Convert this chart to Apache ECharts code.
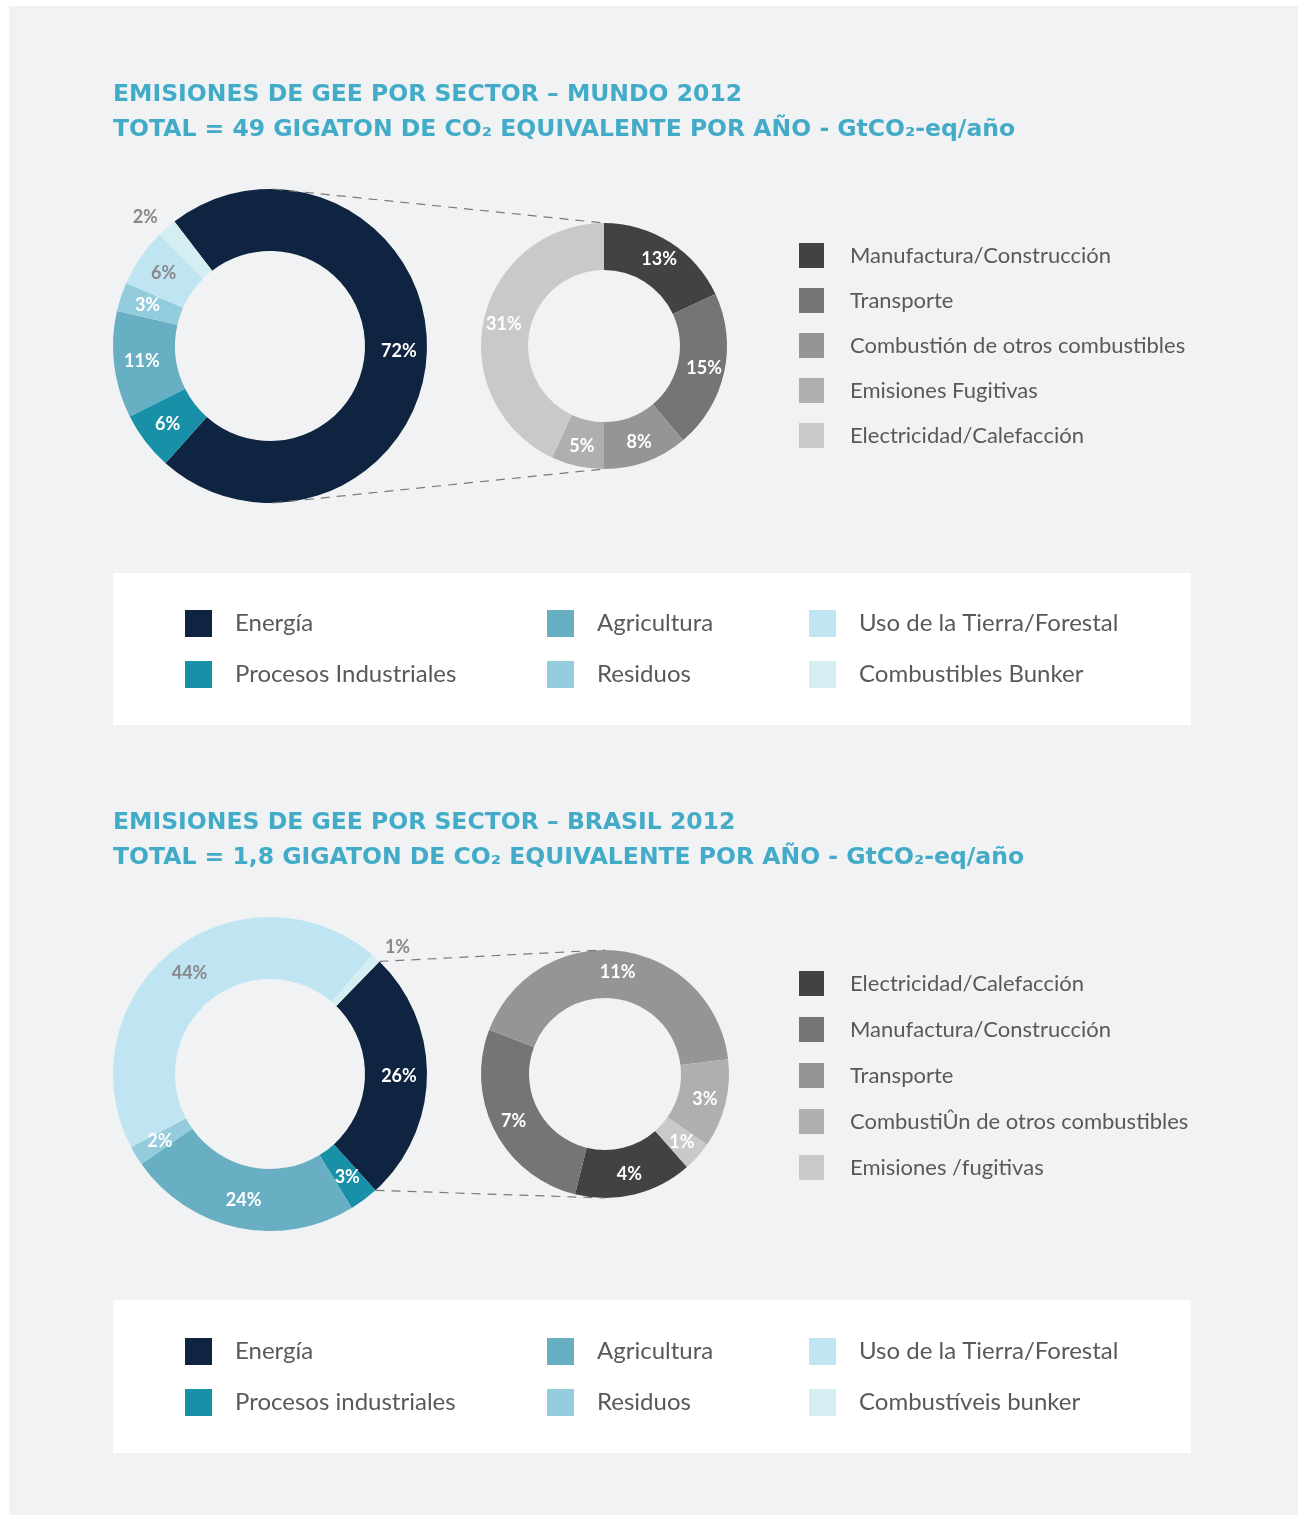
<!DOCTYPE html>
<html>
<head>
<meta charset="utf-8">
<script src="https://cdn.jsdelivr.net/npm/echarts@6/dist/echarts.min.js"></script>
<style>
html,body{margin:0;padding:0;background:#fff;}
#chart{width:1298px;height:1515px;}
</style>
</head>
<body>
<div id="chart"></div>
<script>
// ---- DATA ----
const worldSectors = ['Energía', 'Procesos Industriales', 'Agricultura', 'Residuos', 'Uso de la Tierra/Forestal', 'Combustibles Bunker'];
const worldValues = [72, 6, 11, 3, 6, 2];
const worldEnergySub = ['Manufactura/Construcción', 'Transporte', 'Combustión de otros combustibles', 'Emisiones Fugitivas', 'Electricidad/Calefacción'];
const worldEnergyValues = [13, 15, 8, 5, 31];

const brazilSectors = ['Energía', 'Procesos industriales', 'Agricultura', 'Residuos', 'Uso de la Tierra/Forestal', 'Combustíveis bunker'];
const brazilValues = [26, 3, 24, 2, 44, 1];
const brazilEnergySub = ['Electricidad/Calefacción', 'Manufactura/Construcción', 'Transporte', 'CombustiÛn de otros combustibles', 'Emisiones /fugitivas'];
const brazilEnergyValues = [4, 7, 11, 3, 1];

const worldTitle1 = 'EMISIONES DE GEE POR SECTOR – MUNDO 2012';
const worldTitle2 = 'TOTAL = 49 GIGATON DE CO₂ EQUIVALENTE POR AÑO - GtCO₂-eq/año';
const brazilTitle1 = 'EMISIONES DE GEE POR SECTOR – BRASIL 2012';
const brazilTitle2 = 'TOTAL = 1,8 GIGATON DE CO₂ EQUIVALENTE POR AÑO - GtCO₂-eq/año';

// ---- STYLE / LAYOUT ----
const sectorColors = ['#0f2440', '#1890a8', '#68afc4', '#93ccdc', '#bfe5f2', '#d5eef2'];
const worldSubColors = ['#414244', '#747577', '#949597', '#aeafb1', '#c8c9cb'];
const brazilSubColors = ['#414244', '#747577', '#949597', '#aeafb1', '#c8c9cb'];
const titleColor = '#42abc8';
const textColor = '#58595b';
const grayLabel = '#87888a';
const bgPanel = '#f1f2f4';

const W = { big: { c: [270, 346], r: [95, 157], start: 127.5 }, small: { c: [604, 346], r: [76, 123], start: 90 } };
const B = { big: { c: [270, 1074], r: [95, 157], start: 45.8 }, small: { c: [605, 1074], r: [76, 124], start: -48.6 } };

function bigData(names, values) {
  return names.map((n, i) => {
    const d = { name: n, value: values[i], itemStyle: { color: sectorColors[i] } };
    if (i === 4) d.label = { color: grayLabel };
    if (i === 5) {
      d.label = { position: 'outside', color: grayLabel,
        formatter: p => '{o|' + p.value + '%}',
        rich: { o: { color: grayLabel, fontFamily: 'Lato', fontWeight: 'bold', fontSize: 18, padding: [0, 0, 12, 0] } } };
      d.labelLine = { show: false, length: 6, length2: 0 };
    }
    return d;
  });
}
function smallData(names, values, colors) {
  return names.map((n, i) => ({ name: n, value: values[i], itemStyle: { color: colors[i] } }));
}
function pie(geo, data) {
  return {
    type: 'pie', center: geo.c, radius: geo.r, startAngle: geo.start, clockwise: true,
    avoidLabelOverlap: false, silent: true, animation: false,
    label: { show: true, position: 'inside', formatter: p => p.value + '%', color: '#fff',
             fontFamily: 'Lato', fontWeight: 'bold', fontSize: 18 },
    labelLine: { show: false },
    emphasis: { disabled: true },
    data
  };
}
function legend(names, colors, idx, left, top, size, gap, fs, pad) {
  return {
    orient: 'vertical', left, top, padding: 0, itemWidth: size, itemHeight: size, itemGap: gap,
    icon: 'rect', selectedMode: false,
    data: idx.map(i => ({ name: names[i], itemStyle: { color: colors[i] } })),
    textStyle: { color: textColor, fontFamily: 'Lato', fontSize: fs, padding: [0, 0, 0, pad] }
  };
}
function title(text, top) {
  return { text, left: 113, top, padding: 0,
    textStyle: { color: titleColor, fontFamily: 'DejaVu Sans', fontWeight: 'bold', fontSize: 23.5 } };
}
function pt(geo, ang) {
  const a = ang * Math.PI / 180;
  return [geo.c[0] + geo.r[1] * Math.cos(a), geo.c[1] - geo.r[1] * Math.sin(a)];
}
const dash = { stroke: '#7a7a7a', lineWidth: 1.2, lineDash: [9, 7] };
function connector(p1, p2) { return { type: 'line', z: 5, shape: { x1: p1[0], y1: p1[1], x2: p2[0], y2: p2[1] }, style: dash, silent: true }; }

const bEnergyEnd = B.big.start - 360 * brazilValues[0] / brazilValues.reduce((a, b) => a + b, 0);

const chart = echarts.init(document.getElementById('chart'), null, { renderer: 'canvas' });
chart.setOption({
  backgroundColor: '#ffffff',
  animation: false,
  graphic: [
    { type: 'rect', z: -10, shape: { x: 9, y: 6, width: 1289, height: 1509 }, style: { fill: bgPanel }, silent: true },
    { type: 'rect', z: -9, shape: { x: 113, y: 573, width: 1078, height: 152 }, style: { fill: '#fff' }, silent: true },
    { type: 'rect', z: -9, shape: { x: 113, y: 1300, width: 1078, height: 153 }, style: { fill: '#fff' }, silent: true },
    connector([W.big.c[0] + 3, W.big.c[1] - W.big.r[1]], [W.small.c[0], W.small.c[1] - W.small.r[1]]),
    connector([W.big.c[0] + 3, W.big.c[1] + W.big.r[1]], [W.small.c[0], W.small.c[1] + W.small.r[1]]),
    connector(pt(B.big, B.big.start), [B.small.c[0], B.small.c[1] - B.small.r[1]]),
    connector(pt(B.big, bEnergyEnd), [B.small.c[0], B.small.c[1] + B.small.r[1]])
  ],
  title: [
    title(worldTitle1, 83), title(worldTitle2, 118),
    title(brazilTitle1, 811), title(brazilTitle2, 846)
  ],
  legend: [
    legend(worldSectors, sectorColors, [0, 1], 185, 610, 27, 24, 24, 18),
    legend(worldSectors, sectorColors, [2, 3], 547, 610, 27, 24, 24, 18),
    legend(worldSectors, sectorColors, [4, 5], 809, 610, 27, 24, 24, 18),
    legend(brazilSectors, sectorColors, [0, 1], 185, 1338, 27, 24, 24, 18),
    legend(brazilSectors, sectorColors, [2, 3], 547, 1338, 27, 24, 24, 18),
    legend(brazilSectors, sectorColors, [4, 5], 809, 1338, 27, 24, 24, 18),
    legend(worldEnergySub, worldSubColors, [0, 1, 2, 3, 4], 799, 243, 25, 20, 22, 21),
    legend(brazilEnergySub, brazilSubColors, [0, 1, 2, 3, 4], 799, 971, 25, 21, 22, 21)
  ],
  series: [
    pie(W.big, bigData(worldSectors, worldValues)),
    pie(W.small, smallData(worldEnergySub, worldEnergyValues, worldSubColors)),
    pie(B.big, bigData(brazilSectors, brazilValues)),
    pie(B.small, smallData(brazilEnergySub, brazilEnergyValues, brazilSubColors))
  ]
});
</script>
</body>
</html>
